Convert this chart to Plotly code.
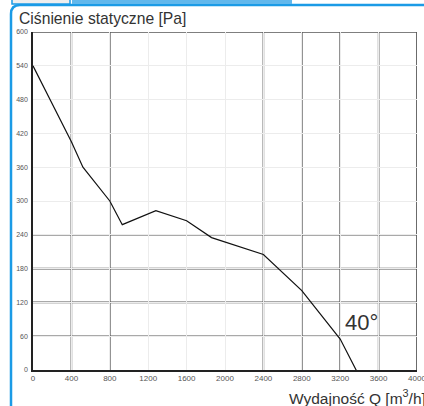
import plotly.graph_objects as go

# data
flow_q = [0, 400, 520, 800, 930, 1280, 1600, 1860, 2400, 2560, 2800, 3200, 3390]
pressure = [540, 405, 360, 300, 258, 283, 265, 235, 205, 180, 141, 55, -8]
x_ticks = [0, 400, 800, 1200, 1600, 2000, 2400, 2800, 3200, 3600, 4000]
y_ticks = [0, 60, 120, 180, 240, 300, 360, 420, 480, 540, 600]
dark_x = [400, 800, 2400, 2800, 3200, 3600, 4000]
dark_y = [60, 120, 180, 240, 600]

W, H = 424, 406
L, R, T, B = 33, 7, 32, 36
pw, ph = W - L - R, H - T - B

def px(x):
    return (x - L) / pw

def py(y):
    return (H - B - y) / ph

fig = go.Figure()
fig.add_trace(go.Scatter(x=flow_q, y=pressure, mode="lines",
                         line=dict(color="#111111", width=1.2),
                         cliponaxis=False, showlegend=False, hoverinfo="skip"))

shapes = []
for xv in dark_x:
    shapes.append(dict(type="line", xref="x", yref="paper", x0=xv, x1=xv, y0=0, y1=1,
                       line=dict(color="#3a3a3a", width=1.5), layer="below"))
for yv in dark_y:
    shapes.append(dict(type="line", xref="paper", yref="y", x0=0, x1=1, y0=yv, y1=yv,
                       line=dict(color="#555555", width=1.6), layer="below"))

blue = "#1b9be6"
# frame: left border and top line
shapes.append(dict(type="path", xref="paper", yref="paper",
                   path=f"M {px(11)} {py(410)} L {px(11)} {py(14)} Q {px(11)} {py(5)} {px(20)} {py(5)} L {px(430)} {py(5)}",
                   line=dict(color=blue, width=2.5)))
# top tabs
shapes.append(dict(type="rect", xref="paper", yref="paper",
                   x0=px(72), x1=px(292), y0=py(4), y1=py(-2),
                   fillcolor="#62b8ec", line=dict(width=0)))
shapes.append(dict(type="rect", xref="paper", yref="paper",
                   x0=px(12), x1=px(70), y0=py(4), y1=py(-2),
                   fillcolor="#eeeeee", line=dict(color=blue, width=1.5)))

fig.update_layout(
    width=W, height=H,
    margin=dict(l=L, r=R, t=T, b=B, autoexpand=False),
    paper_bgcolor="white", plot_bgcolor="white",
    font=dict(family="Liberation Sans, Arial, sans-serif", color="#333333"),
    shapes=shapes,
    xaxis=dict(range=[0, 4000], tickvals=x_ticks, ticktext=[str(v) for v in x_ticks],
               showgrid=True, gridcolor="#ececec", gridwidth=1,
               showline=True, linecolor="#222222", linewidth=1.5, mirror=False,
               ticks="", tickfont=dict(size=8, color="#555555"), zeroline=False,
               ticklabeloverflow="allow",
               automargin=False, fixedrange=True),
    yaxis=dict(range=[0, 600], tickvals=y_ticks, ticktext=[str(v) for v in y_ticks],
               showgrid=True, gridcolor="#ececec", gridwidth=1,
               showline=True, linecolor="#222222", linewidth=1.5,
               ticks="", tickfont=dict(size=7, color="#555555"), zeroline=False,
               ticklabeloverflow="allow",
               ticklabelstandoff=2, automargin=False, fixedrange=True),
    annotations=[
        dict(text="Ciśnienie statyczne [Pa]", xref="paper", yref="paper",
             x=px(17), y=py(19), xanchor="left", yanchor="middle", showarrow=False,
             font=dict(size=15.7, color="#333333")),
        dict(text="Wydajność Q [m<sup>3</sup>/h]", xref="paper", yref="paper",
             x=px(287), y=py(397), xanchor="left", yanchor="middle", showarrow=False,
             font=dict(size=15.5, color="#333333")),
        dict(text="40°", xref="paper", yref="paper",
             x=px(343), y=py(322), xanchor="left", yanchor="middle", showarrow=False,
             font=dict(size=22, color="#333333")),
    ],
)

fig.write_html("out.html", config={"displayModeBar": False},
               post_script="document.body.style.margin='0';document.body.style.overflow='hidden';")
